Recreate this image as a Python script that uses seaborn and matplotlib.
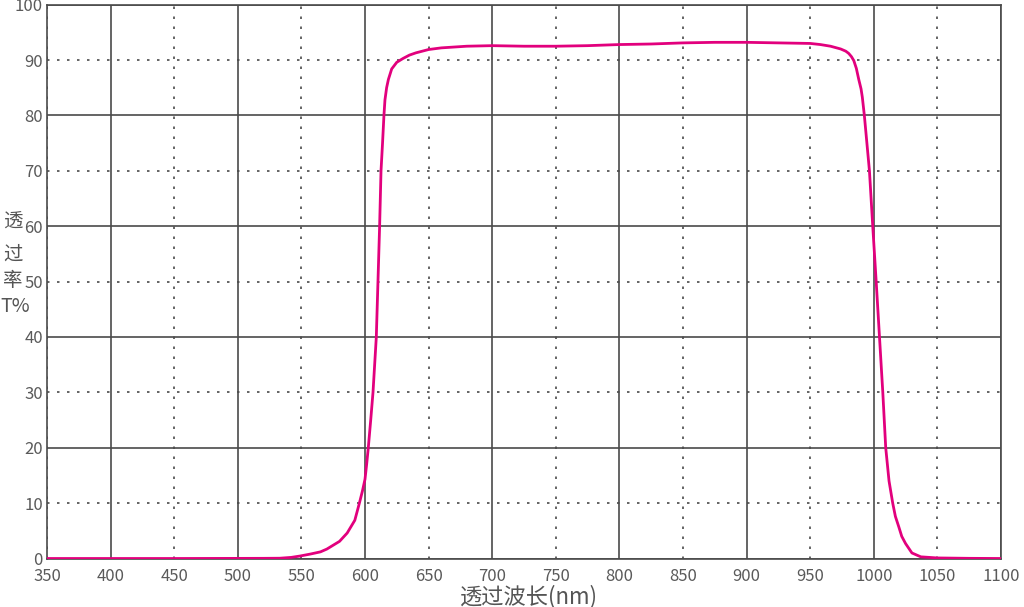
import matplotlib
matplotlib.use("Agg")
import matplotlib.pyplot as plt
import seaborn as sns
import pandas as pd

wavelength = [350, 400, 450, 500, 520, 533, 542, 549, 557, 565, 570, 575, 580, 586, 592,
              595.6, 598, 600, 601.3, 602.6, 604.5, 606.3, 608.9, 610.2, 611.5, 612.6,
              613.8, 614.9, 615.7, 617, 618.4, 621, 625, 630, 635, 640, 650, 660, 680,
              700, 725, 750, 775, 800, 825, 850, 875, 900, 925, 950, 958, 966, 974,
              978, 980.3, 982.5, 984.3, 986.3, 988.2, 990, 991, 992.6, 994.6, 996.6,
              999.2, 1001.9, 1004.5, 1007.1, 1009.4, 1012, 1014.9, 1017, 1019.7, 1022,
              1025, 1030, 1037, 1050, 1075, 1100]
transmittance = [0, 0, 0, 0.02, 0.03, 0.05, 0.2, 0.45, 0.8, 1.2, 1.7, 2.4, 3.1, 4.6, 6.9,
                 10, 12.2, 14.3, 17, 20, 25, 30, 40, 50, 60, 70,
                 75, 80, 82.8, 85, 86.5, 88.4, 89.6, 90.3, 90.9, 91.3, 91.9, 92.2, 92.5,
                 92.6, 92.5, 92.5, 92.6, 92.8, 92.9, 93.1, 93.2, 93.2, 93.1, 93.0, 92.8, 92.5, 92.0,
                 91.6, 91.2, 90.6, 89.9, 88.5, 86.5, 84.8, 83.3, 80, 75, 70,
                 60, 50, 40, 30, 20, 14, 10, 7.6, 5.7, 4.0,
                 2.7, 1.0, 0.3, 0.1, 0.03, 0]

x_ticks = [350, 400, 450, 500, 550, 600, 650, 700, 750, 800, 850, 900, 950, 1000, 1050, 1100]
y_ticks = [0, 10, 20, 30, 40, 50, 60, 70, 80, 90, 100]
ylabel_parts = ["透", "过", "率", "T%"]

sns.set_theme(style="white")
plt.rcParams['font.family'] = ['Noto Sans CJK SC', 'DejaVu Sans']

df = pd.DataFrame({"wl": wavelength, "T": transmittance})

fig = plt.figure(figsize=(10.24, 6.07), dpi=100)
ax = fig.add_axes([0.0459, 0.0799, 0.9316, 0.9124])

grid_c = "#4a4a4a"
for xv in x_ticks:
    if xv % 100 == 0:
        ax.axvline(xv, color=grid_c, lw=1.2, zorder=1)
    else:
        ax.axvline(xv, color=grid_c, lw=1.2, ls=(0, (1.5, 4.5)), zorder=1)
for yv in y_ticks:
    if yv % 20 == 0:
        ax.axhline(yv, color=grid_c, lw=1.2, zorder=1)
    else:
        ax.axhline(yv, color=grid_c, lw=1.2, ls=(0, (1.5, 4.5)), zorder=1)

sns.lineplot(data=df, x="wl", y="T", ax=ax, color="#E2007D", lw=2.0, zorder=3)

ax.set_xlim(350, 1100)
ax.set_ylim(0, 100)
ax.set_xticks(x_ticks)
ax.set_yticks(y_ticks)
ax.set_xticklabels([str(v) for v in x_ticks])
ax.set_yticklabels([str(v) for v in y_ticks])
ax.tick_params(axis='both', length=0, labelsize=12, labelcolor="#5a5a5a")
ax.tick_params(axis='x', pad=6.5)
ax.tick_params(axis='y', pad=3)
for lab in ax.get_xticklabels() + ax.get_yticklabels():
    lab.set_fontweight('light')
for s in ax.spines.values():
    s.set_color(grid_c)
    s.set_linewidth(1.2)
ax.set_xlabel("")
ax.set_ylabel("")

fig.text(0.5166, 0.017, "透过波长(nm)", ha="center", va="center", fontsize=16,
         color="#555555", fontweight='light')
ylab_y = [222, 254, 280, 307]
ylab_x = [13, 13, 13, 15]
for txt, px, py in zip(ylabel_parts, ylab_x, ylab_y):
    fig.text(px / 1024, 1 - py / 607, txt, ha="center", va="center", fontsize=14,
             color="#555555", fontweight='light')

fig.savefig("out.png", dpi=100)
